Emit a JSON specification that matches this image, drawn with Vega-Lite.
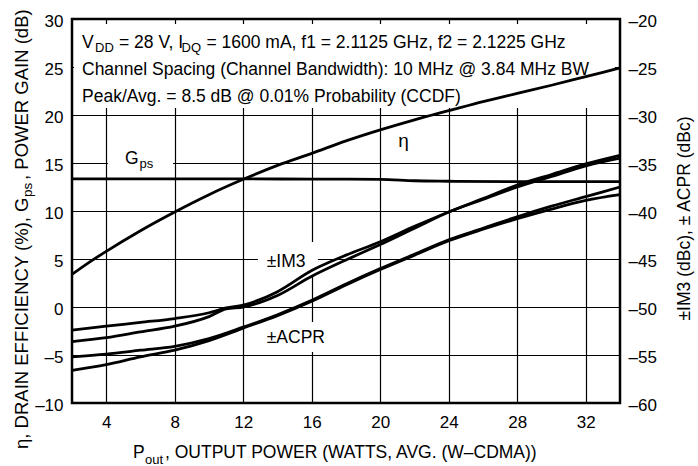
{
  "$schema": "https://vega.github.io/schema/vega-lite/v6.json",
  "width": 548,
  "height": 384,
  "autosize": {"type": "none"},
  "padding": {"left": 72, "top": 19, "right": 78, "bottom": 63},
  "background": "white",
  "config": {
    "view": {"stroke": "black", "strokeWidth": 2.5},
    "font": "Liberation Sans",
    "text": {"font": "Liberation Sans"},
    "axis": {
      "labelFont": "Liberation Sans",
      "labelFontSize": 17,
      "labelColor": "black",
      "domain": false,
      "ticks": false,
      "gridColor": "black",
      "gridOpacity": 1,
      "gridWidth": 1.2,
      "titleFont": "Liberation Sans",
      "titleFontWeight": "normal",
      "titleColor": "black"
    }
  },
  "datasets": {
    "left": [
      {"s": "eta", "x": 2, "y": 3.4}, {"s": "eta", "x": 3, "y": 4.65}, {"s": "eta", "x": 4, "y": 5.8},
      {"s": "eta", "x": 6, "y": 7.95}, {"s": "eta", "x": 8, "y": 9.9}, {"s": "eta", "x": 10, "y": 11.7},
      {"s": "eta", "x": 12, "y": 13.3}, {"s": "eta", "x": 14, "y": 14.75}, {"s": "eta", "x": 16, "y": 16.0},
      {"s": "eta", "x": 18, "y": 17.3}, {"s": "eta", "x": 20, "y": 18.45}, {"s": "eta", "x": 22, "y": 19.5},
      {"s": "eta", "x": 24, "y": 20.45}, {"s": "eta", "x": 26, "y": 21.4}, {"s": "eta", "x": 28, "y": 22.25},
      {"s": "eta", "x": 30, "y": 23.1}, {"s": "eta", "x": 32, "y": 24.0}, {"s": "eta", "x": 34, "y": 24.9},
      {"s": "gps", "x": 2, "y": 13.35}, {"s": "gps", "x": 8, "y": 13.35}, {"s": "gps", "x": 12, "y": 13.35},
      {"s": "gps", "x": 16, "y": 13.32}, {"s": "gps", "x": 20, "y": 13.3}, {"s": "gps", "x": 22, "y": 13.15},
      {"s": "gps", "x": 24, "y": 13.1}, {"s": "gps", "x": 28, "y": 13.05}, {"s": "gps", "x": 34, "y": 13.05}
    ],
    "right": [
      {"s": "im3a", "x": 2, "y": -52.4}, {"s": "im3a", "x": 4, "y": -52.0}, {"s": "im3a", "x": 6, "y": -51.6},
      {"s": "im3a", "x": 8, "y": -51.2}, {"s": "im3a", "x": 10, "y": -50.6}, {"s": "im3a", "x": 11, "y": -50.1},
      {"s": "im3a", "x": 12, "y": -49.8}, {"s": "im3a", "x": 14, "y": -48.4}, {"s": "im3a", "x": 16, "y": -46.2},
      {"s": "im3a", "x": 18, "y": -44.6}, {"s": "im3a", "x": 20, "y": -43.2}, {"s": "im3a", "x": 22, "y": -41.6},
      {"s": "im3a", "x": 24, "y": -40.1}, {"s": "im3a", "x": 26, "y": -38.7}, {"s": "im3a", "x": 28, "y": -37.3},
      {"s": "im3a", "x": 30, "y": -36.2}, {"s": "im3a", "x": 32, "y": -35.1}, {"s": "im3a", "x": 34, "y": -34.2},
      {"s": "im3b", "x": 2, "y": -53.6}, {"s": "im3b", "x": 4, "y": -53.2}, {"s": "im3b", "x": 6, "y": -52.6},
      {"s": "im3b", "x": 8, "y": -52.0}, {"s": "im3b", "x": 10, "y": -51.0}, {"s": "im3b", "x": 11, "y": -50.2},
      {"s": "im3b", "x": 12, "y": -50.0}, {"s": "im3b", "x": 14, "y": -48.8}, {"s": "im3b", "x": 16, "y": -46.8},
      {"s": "im3b", "x": 18, "y": -45.1}, {"s": "im3b", "x": 20, "y": -43.5}, {"s": "im3b", "x": 22, "y": -41.8},
      {"s": "im3b", "x": 24, "y": -40.1}, {"s": "im3b", "x": 26, "y": -38.8}, {"s": "im3b", "x": 28, "y": -37.5},
      {"s": "im3b", "x": 30, "y": -36.4}, {"s": "im3b", "x": 32, "y": -35.3}, {"s": "im3b", "x": 34, "y": -34.5},
      {"s": "acpra", "x": 2, "y": -55.2}, {"s": "acpra", "x": 4, "y": -54.9}, {"s": "acpra", "x": 6, "y": -54.5},
      {"s": "acpra", "x": 8, "y": -54.1}, {"s": "acpra", "x": 10, "y": -53.3}, {"s": "acpra", "x": 12, "y": -52.1},
      {"s": "acpra", "x": 14, "y": -50.8}, {"s": "acpra", "x": 16, "y": -49.3}, {"s": "acpra", "x": 18, "y": -47.6},
      {"s": "acpra", "x": 20, "y": -46.0}, {"s": "acpra", "x": 22, "y": -44.5}, {"s": "acpra", "x": 24, "y": -43.0},
      {"s": "acpra", "x": 26, "y": -41.8}, {"s": "acpra", "x": 28, "y": -40.6}, {"s": "acpra", "x": 30, "y": -39.5},
      {"s": "acpra", "x": 32, "y": -38.5}, {"s": "acpra", "x": 34, "y": -37.5},
      {"s": "acprb", "x": 2, "y": -56.6}, {"s": "acprb", "x": 4, "y": -56.0}, {"s": "acprb", "x": 6, "y": -55.2},
      {"s": "acprb", "x": 8, "y": -54.5}, {"s": "acprb", "x": 10, "y": -53.5}, {"s": "acprb", "x": 12, "y": -52.2},
      {"s": "acprb", "x": 14, "y": -50.9}, {"s": "acprb", "x": 16, "y": -49.4}, {"s": "acprb", "x": 18, "y": -47.7},
      {"s": "acprb", "x": 20, "y": -46.1}, {"s": "acprb", "x": 22, "y": -44.6}, {"s": "acprb", "x": 24, "y": -43.1},
      {"s": "acprb", "x": 26, "y": -41.9}, {"s": "acprb", "x": 28, "y": -40.8}, {"s": "acprb", "x": 30, "y": -39.8},
      {"s": "acprb", "x": 32, "y": -38.9}, {"s": "acprb", "x": 34, "y": -38.3}
    ],
    "boxes": [
      {"x": 2.12, "x2": 33.7, "y": 20.73, "y2": 29.48},
      {"x": 4.1, "x2": 7.9, "y": 14.06, "y2": 16.35},
      {"x": 12.86, "x2": 16.36, "y": 3.13, "y2": 6.77},
      {"x": 12.98, "x2": 17.3, "y": -4.69, "y2": -1.56}
    ],
    "ann": [
      {"g": "a", "t": "V", "x": 2.584, "y": 26.98},
      {"g": "s", "t": "DD", "x": 3.343, "y": 26.56},
      {"g": "a", "t": "= 28 V, I", "x": 4.745, "y": 26.98},
      {"g": "s", "t": "DQ", "x": 8.394, "y": 26.56},
      {"g": "a", "t": "= 1600 mA, f1 = 2.1125 GHz, f2 = 2.1225 GHz", "x": 9.85, "y": 26.98},
      {"g": "a", "t": "Channel Spacing (Channel Bandwidth): 10 MHz @ 3.84 MHz BW", "x": 2.584, "y": 24.115},
      {"g": "a", "t": "Peak/Avg. = 8.5 dB @ 0.01% Probability (CCDF)", "x": 2.584, "y": 21.354},
      {"g": "a", "t": "G", "x": 5.095, "y": 14.9},
      {"g": "s", "t": "ps", "x": 5.942, "y": 14.48},
      {"g": "c", "t": "η", "x": 21.358, "y": 16.667},
      {"g": "a", "t": "±IM3", "x": 13.37, "y": 4.198},
      {"g": "a", "t": "±ACPR", "x": 13.37, "y": -3.78},
      {"g": "a", "t": "P", "x": 5.562, "y": -15.729},
      {"g": "s", "t": "out", "x": 6.263, "y": -16.35},
      {"g": "a", "t": ", OUTPUT POWER (WATTS, AVG. (W–CDMA))", "x": 7.43, "y": -15.729},
      {"g": "r", "t": "η, DRAIN EFFICIENCY (%), G", "x": -0.569, "y": -14.79},
      {"g": "rs", "t": "ps", "x": -0.336, "y": 11.458},
      {"g": "r", "t": ", POWER GAIN (dB)", "x": -0.569, "y": 13.23}
    ]
  },
  "encoding": {
    "x": {"field": "x", "type": "quantitative", "scale": {"domain": [2, 34], "nice": false, "zero": false},
      "axis": {"orient": "bottom", "values": [4, 8, 12, 16, 20, 24, 28, 32], "grid": true, "title": null, "labelPadding": 11, "labelFlush": false}}
  },
  "resolve": {"scale": {"y": "independent"}},
  "layer": [
    {
      "encoding": {
        "y": {"field": "y", "type": "quantitative", "scale": {"domain": [-10, 30], "nice": false, "zero": false},
          "axis": {"orient": "left", "values": [-10, -5, 0, 5, 10, 15, 20, 25, 30], "grid": true, "title": null, "labelPadding": 9, "labelOffset": 2, "labelFlush": false,
            "labelExpr": "replace(datum.label, '\u2212', '\u2013')"}}
      },
      "layer": [
        {
          "data": {"name": "boxes"},
          "mark": {"type": "rect", "fill": "white", "strokeWidth": 0},
          "encoding": {"x2": {"field": "x2"}, "y2": {"field": "y2"}}
        },
        {
          "data": {"name": "left"},
          "mark": {"type": "line", "color": "black", "strokeWidth": 2.8, "interpolate": "monotone"},
          "encoding": {"detail": {"field": "s"}}
        },
        {
          "data": {"name": "ann"},
          "transform": [{"filter": "datum.g === 'a'"}],
          "mark": {"type": "text", "align": "left", "baseline": "alphabetic", "fontSize": 17.5, "color": "black"},
          "encoding": {"text": {"field": "t"}}
        },
        {
          "data": {"name": "ann"},
          "transform": [{"filter": "datum.g === 's'"}],
          "mark": {"type": "text", "align": "left", "baseline": "alphabetic", "fontSize": 13, "color": "black"},
          "encoding": {"text": {"field": "t"}}
        },
        {
          "data": {"name": "ann"},
          "transform": [{"filter": "datum.g === 'c'"}],
          "mark": {"type": "text", "align": "center", "baseline": "alphabetic", "fontSize": 19, "color": "black"},
          "encoding": {"text": {"field": "t"}}
        },
        {
          "data": {"name": "ann"},
          "transform": [{"filter": "datum.g === 'r'"}],
          "mark": {"type": "text", "align": "left", "baseline": "alphabetic", "fontSize": 18.5, "angle": 270, "color": "black"},
          "encoding": {"text": {"field": "t"}}
        },
        {
          "data": {"name": "ann"},
          "transform": [{"filter": "datum.g === 'rs'"}],
          "mark": {"type": "text", "align": "left", "baseline": "alphabetic", "fontSize": 13.5, "angle": 270, "color": "black"},
          "encoding": {"text": {"field": "t"}}
        }
      ]
    },
    {
      "data": {"name": "right"},
      "mark": {"type": "line", "color": "black", "strokeWidth": 2.8, "interpolate": "monotone"},
      "encoding": {
        "y": {"field": "y", "type": "quantitative", "scale": {"domain": [-60, -20], "nice": false, "zero": false},
          "axis": {"orient": "right", "values": [-60, -55, -50, -45, -40, -35, -30, -25, -20], "grid": false, "labelPadding": 8, "labelOffset": 2, "labelFlush": false,
            "labelExpr": "replace(datum.label, '\u2212', '\u2013')",
            "title": "±IM3 (dBc), ± ACPR (dBc)", "titleFontSize": 17.5, "titleAngle": 270, "titleX": 69, "titleY": 199, "titleAlign": "center", "titleBaseline": "alphabetic"}},
        "detail": {"field": "s"}
      }
    }
  ]
}
